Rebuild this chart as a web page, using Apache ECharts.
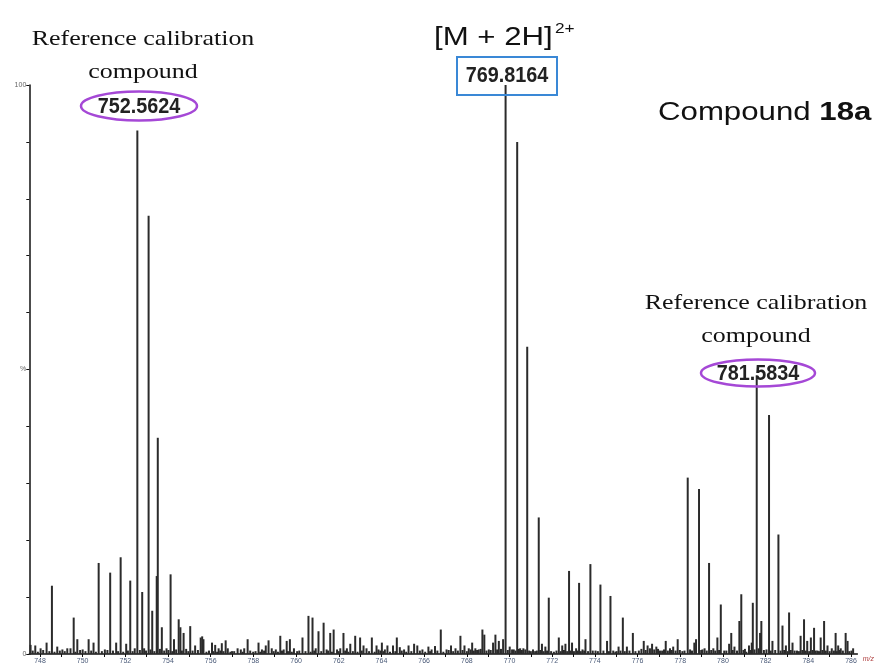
<!DOCTYPE html>
<html>
<head lang="en">
    <meta charset="UTF-8">
    <title>Compound 18a</title>
    <script src="https://cdn.jsdelivr.net/npm/echarts@6.0.0/dist/echarts.min.js"></script>
</head>
<body style="margin:0;background:#fff;">
<div id="container" style="height:666px;width:877px;"></div>
<script>
    // m/z values and relative intensities (%)
    var peakMz = [747.56, 747.78, 748.03, 748.31, 748.56, 748.81, 749.05, 749.28, 749.43, 749.58,
        749.75, 750.0, 750.28, 750.51, 750.75, 751.04, 751.29, 751.57, 751.78, 752.04,
        752.23, 752.44, 752.5624, 752.79, 752.88, 753.09, 753.26, 753.47, 753.52, 753.71,
        753.93, 754.12, 754.28, 754.5, 754.58, 754.73, 755.04, 755.27, 755.53, 755.6,
        755.66, 756.06, 756.21, 756.37, 756.52, 756.7, 756.8, 757.0, 757.26, 757.41,
        757.57, 757.73, 757.99, 758.24, 758.4, 758.58, 758.71, 758.86, 759.05, 759.26,
        759.42, 759.56, 759.71, 759.9, 760.05, 760.3, 760.58, 760.77, 760.92, 761.05,
        761.29, 761.43, 761.6, 761.76, 761.92, 762.07, 762.22, 762.38, 762.54, 762.77,
        763.0, 763.16, 763.3, 763.55, 763.77, 763.86, 764.02, 764.16, 764.28, 764.54,
        764.72, 764.86, 765.06, 765.27, 765.53, 765.68, 765.92, 766.2, 766.35, 766.51,
        766.78, 767.05, 767.26, 767.47, 767.7, 767.89, 768.09, 768.25, 768.4, 768.56,
        768.73, 768.82, 769.03, 769.23, 769.34, 769.5, 769.7, 769.8164, 770.01, 770.12,
        770.36, 770.5, 770.65, 770.83, 771.0, 771.2, 771.37, 771.52, 771.68, 771.84,
        772.08, 772.31, 772.47, 772.62, 772.79, 772.93, 773.12, 773.26, 773.42, 773.56,
        773.79, 774.03, 774.26, 774.57, 774.73, 774.96, 775.11, 775.31, 775.5, 775.78,
        776.06, 776.29, 776.47, 776.68, 776.88, 777.05, 777.32, 777.52, 777.67, 777.88,
        778.1, 778.35, 778.66, 778.74, 778.88, 779.04, 779.14, 779.35, 779.55, 779.74,
        779.9, 780.06, 780.29, 780.39, 780.54, 780.77, 780.86, 781.1, 781.22, 781.35,
        781.4, 781.5834, 781.74, 781.8, 782.16, 782.32, 782.6, 782.79, 782.95, 783.1,
        783.26, 783.47, 783.64, 783.8, 783.95, 784.12, 784.27, 784.43, 784.58, 784.74,
        784.9, 785.1, 785.28, 785.4, 785.52, 785.75, 785.84, 786.1];
    var peakInt = [1.6, 1.5, 1.0, 2.0, 12.0, 1.3, 0.8, 1.0, 1.0, 6.4,
        2.6, 0.8, 2.6, 2.0, 16.0, 0.8, 14.3, 2.0, 17.0, 1.8,
        12.9, 1.0, 92.0, 10.9, 1.0, 77.0, 7.6, 13.7, 38.0, 4.7,
        1.0, 14.0, 2.6, 6.1, 4.7, 3.7, 4.9, 1.5, 2.9, 3.1,
        2.6, 2.0, 1.6, 1.0, 1.9, 2.4, 1.0, 0.5, 1.0, 0.8,
        1.0, 2.6, 0.4, 2.0, 0.8, 1.5, 2.4, 1.0, 0.8, 3.2,
        0.8, 2.3, 2.6, 1.0, 0.5, 2.9, 6.7, 6.4, 1.0, 4.0,
        5.5, 0.8, 3.7, 4.3, 0.8, 1.0, 3.7, 1.0, 1.8, 3.2,
        2.9, 1.5, 1.0, 2.9, 1.5, 0.8, 2.0, 0.8, 1.5, 1.5,
        2.9, 1.2, 0.8, 1.5, 1.8, 1.5, 0.8, 1.3, 0.8, 1.4,
        4.3, 0.8, 1.5, 1.0, 3.2, 1.5, 1.0, 2.0, 1.0, 0.8,
        4.3, 3.4, 0.8, 2.0, 3.4, 2.3, 2.6, 100, 1.3, 0.8,
        90, 1.0, 1.0, 54, 0.5, 0.5, 24, 1.8, 1.3, 9.9,
        0.4, 2.9, 1.5, 1.8, 14.6, 2.0, 1.0, 12.5, 0.8, 2.6,
        15.8, 0.6, 12.2, 2.3, 10.2, 0.4, 1.3, 6.4, 1.3, 3.7,
        0.6, 2.3, 1.5, 1.8, 1.3, 0.6, 2.3, 1.0, 1.3, 2.6,
        0.5, 31, 2.0, 2.6, 29, 0.8, 1.0, 16, 1.0, 2.9,
        8.7, 0.6, 1.8, 3.7, 1.3, 5.8, 10.5, 0.4, 1.5, 2.0,
        9.0, 49, 3.7, 5.8, 42, 2.3, 21, 5.0, 1.5, 7.3,
        2.0, 0.6, 3.2, 6.1, 2.3, 2.9, 4.6, 0.6, 2.9, 5.8,
        1.5, 1.0, 3.7, 1.5, 1.0, 3.7, 2.3, 1.0];

    // baseline noise
    var noiseMz = [747.66, 747.9, 748.15, 748.44, 748.68, 748.93, 749.16, 749.66, 749.88, 750.13,
        750.4, 750.62, 750.9, 751.16, 751.42, 751.66, 751.9, 752.12, 752.34, 752.68,
        752.97, 753.18, 753.36, 753.62, 753.82, 754.02, 754.2, 754.38, 754.65, 754.85,
        754.95, 755.15, 755.4, 755.8, 755.92, 756.12, 756.3, 756.45, 756.6, 756.92,
        757.1, 757.5, 757.85, 758.1, 758.32, 758.5, 758.95, 759.15, 759.34, 759.62,
        759.8, 760.15, 760.44, 760.68, 760.85, 761.18, 761.5, 761.68, 762.0, 762.3,
        762.45, 762.66, 762.88, 763.08, 763.42, 763.68, 763.95, 764.1, 764.4, 764.65,
        764.95, 765.16, 765.4, 765.8, 766.05, 766.28, 766.62, 766.9, 767.15, 767.36,
        767.58, 767.8, 768.0, 768.18, 768.33, 768.48, 768.65, 768.92, 769.12, 769.42,
        769.6, 769.92, 770.2, 770.28, 770.44, 770.58, 770.74, 770.92, 771.1, 771.28,
        771.44, 771.6, 771.76, 771.95, 772.2, 772.4, 772.55, 772.7, 772.86, 773.02,
        773.2, 773.34, 773.5, 773.68, 773.9, 774.14, 774.4, 774.66, 774.86, 775.02,
        775.2, 775.4, 775.62, 775.9, 776.18, 776.38, 776.58, 776.78, 776.96, 777.15,
        777.24, 777.42, 777.6, 777.78, 777.98, 778.2, 778.46, 778.55, 778.98, 779.24,
        779.45, 779.64, 779.82, 780.16, 780.46, 780.66, 780.96, 781.03, 781.3, 781.48,
        781.67, 781.92, 782.04, 782.24, 782.45, 782.7, 782.87, 783.03, 783.18, 783.36,
        783.56, 783.72, 783.88, 784.04, 784.2, 784.35, 784.5, 784.66, 784.82, 785.0,
        785.2, 785.34, 785.46, 785.62, 785.92, 786.02];
    var noiseInt = [0.6, 0.4, 0.7, 0.5, 0.4, 0.6, 0.5, 0.4, 0.7, 0.5,
        0.6, 0.4, 0.5, 0.7, 0.6, 0.5, 0.4, 0.6, 0.5, 0.7,
        0.6, 0.8, 0.5, 0.9, 0.6, 0.7, 0.5, 0.8, 0.6, 0.9,
        0.5, 0.6, 0.7, 0.4, 0.6, 0.5, 0.4, 0.6, 0.5, 0.4,
        0.5, 0.4, 0.6, 0.5, 0.4, 0.6, 0.5, 0.4, 0.6, 0.5,
        0.4, 0.6, 0.5, 0.4, 0.6, 0.5, 0.6, 0.4, 0.5, 0.6,
        0.4, 0.5, 0.4, 0.6, 0.5, 0.4, 0.6, 0.5, 0.4, 0.5,
        0.6, 0.4, 0.5, 0.6, 0.4, 0.5, 0.6, 0.4, 0.7, 0.5,
        0.6, 0.7, 0.5, 0.8, 0.6, 0.7, 0.9, 0.6, 0.7, 0.8,
        0.9, 0.7, 0.8, 0.6, 0.9, 0.7, 0.8, 0.6, 0.8, 0.6,
        0.7, 0.5, 0.6, 0.5, 0.6, 0.5, 0.7, 0.5, 0.6, 0.5,
        0.6, 0.5, 0.6, 0.5, 0.6, 0.5, 0.6, 0.5, 0.6, 0.5,
        0.6, 0.5, 0.6, 0.5, 0.9, 0.7, 1.0, 0.8, 0.9, 0.6,
        0.8, 0.6, 0.7, 0.6, 0.7, 0.6, 0.8, 0.6, 0.7, 0.6,
        0.7, 0.6, 0.7, 0.6, 0.7, 0.6, 0.7, 0.9, 0.7, 0.8,
        1.0, 0.7, 0.8, 0.6, 0.7, 0.6, 0.7, 0.5, 0.7, 0.6,
        0.5, 0.7, 0.6, 0.5, 0.7, 0.6, 0.5, 0.7, 0.6, 0.5,
        0.6, 0.5, 0.7, 0.6, 0.5, 0.6];

    var xMajorTicks = [748, 750, 752, 754, 756, 758, 760, 762, 764, 766, 768, 770, 772, 774, 776, 778, 780, 782, 784, 786];
    var xMinorTicks = [748, 749, 750, 751, 752, 753, 754, 755, 756, 757, 758, 759, 760, 761, 762, 763, 764, 765, 766, 767,
        768, 769, 770, 771, 772, 773, 774, 775, 776, 777, 778, 779, 780, 781, 782, 783, 784, 785, 786];
    var yTicks = [0, 10, 20, 30, 40, 50, 60, 70, 80, 90, 100];
    var yLabels = [0, 50, 100];

    var spectrum = [];
    for (var i = 0; i < noiseMz.length; i++) spectrum.push([noiseMz[i], noiseInt[i]]);
    for (var j = 0; j < peakMz.length; j++) spectrum.push([peakMz[j], peakInt[j]]);

    var dom = document.getElementById("container");
    var myChart = echarts.init(dom);
    var serif = "'Liberation Serif', 'Times New Roman', serif";
    var sans = "'Liberation Sans', Arial, sans-serif";

    var option = {
        animation: false,
        backgroundColor: '#fff',
        grid: {left: 29.3, right: 19.3, top: 85, bottom: 12},
        xAxis: {
            type: 'value',
            min: 747.5,
            max: 786.3,
            name: 'm/z',
            nameLocation: 'end',
            nameGap: 2,
            nameTextStyle: {fontSize: 7, fontStyle: 'italic', color: '#b04040', verticalAlign: 'top', padding: [2, 0, 0, 0]},
            axisLine: {lineStyle: {color: '#111', width: 1.5}},
            axisTick: {customValues: xMinorTicks, length: 3, lineStyle: {color: '#111'}},
            axisLabel: {customValues: xMajorTicks, fontSize: 7, color: '#4a5a78', margin: 4, fontFamily: sans},
            splitLine: {show: false}
        },
        yAxis: {
            type: 'value',
            min: 0,
            max: 100,
            axisLine: {show: true, lineStyle: {color: '#111', width: 1.5}},
            axisTick: {show: true, customValues: yTicks, length: 3, lineStyle: {color: '#111'}},
            axisLabel: {
                customValues: yLabels, fontSize: 7, color: '#666', margin: 3, fontFamily: sans,
                formatter: function (v) { return v === 50 ? '%' : String(v); }
            },
            splitLine: {show: false}
        },
        series: [{
            type: 'bar',
            data: spectrum,
            barWidth: 2,
            itemStyle: {color: '#2b2b2b'},
            silent: true
        }],
        graphic: [
            {type: 'text', x: 143, y: 39, scaleX: 1.18, z: 100,
                style: {text: 'Reference calibration', font: '22px ' + serif, fill: '#111', textAlign: 'center', textVerticalAlign: 'middle'}},
            {type: 'text', x: 143, y: 72, scaleX: 1.18, z: 100,
                style: {text: 'compound', font: '22px ' + serif, fill: '#111', textAlign: 'center', textVerticalAlign: 'middle'}},
            {type: 'ellipse', z: 100, shape: {cx: 139, cy: 106, rx: 58, ry: 14.5},
                style: {fill: 'rgba(255,255,255,0)', stroke: '#a548d6', lineWidth: 2.5}},
            {type: 'text', x: 139, y: 107, scaleX: 0.9, z: 101,
                style: {text: '752.5624', font: 'bold 22px ' + sans, fill: '#222', textAlign: 'center', textVerticalAlign: 'middle'}},

            {type: 'text', x: 434, y: 38, scaleX: 1.2, z: 100,
                style: {text: '[M + 2H]', font: '26px ' + sans, fill: '#111', textAlign: 'left', textVerticalAlign: 'middle'}},
            {type: 'text', x: 555, y: 29, scaleX: 1.15, z: 100,
                style: {text: '2+', font: '15px ' + sans, fill: '#111', textAlign: 'left', textVerticalAlign: 'middle'}},
            {type: 'rect', z: 100, shape: {x: 457, y: 57, width: 100, height: 38},
                style: {fill: 'rgba(255,255,255,0)', stroke: '#3a88d6', lineWidth: 2}},
            {type: 'text', x: 507, y: 76, scaleX: 0.9, z: 101,
                style: {text: '769.8164', font: 'bold 22px ' + sans, fill: '#222', textAlign: 'center', textVerticalAlign: 'middle'}},

            {type: 'text', x: 658, y: 113, scaleX: 1.2, z: 100,
                style: {
                    text: 'Compound {b|18a}', font: '26px ' + sans, fill: '#111', textAlign: 'left', textVerticalAlign: 'middle',
                    rich: {b: {font: 'bold 26px ' + sans, fill: '#111'}}
                }},

            {type: 'text', x: 756, y: 303, scaleX: 1.18, z: 100,
                style: {text: 'Reference calibration', font: '22px ' + serif, fill: '#111', textAlign: 'center', textVerticalAlign: 'middle'}},
            {type: 'text', x: 756, y: 336, scaleX: 1.18, z: 100,
                style: {text: 'compound', font: '22px ' + serif, fill: '#111', textAlign: 'center', textVerticalAlign: 'middle'}},
            {type: 'ellipse', z: 100, shape: {cx: 758, cy: 373, rx: 57, ry: 13.5},
                style: {fill: 'rgba(255,255,255,0)', stroke: '#a548d6', lineWidth: 2.5}},
            {type: 'text', x: 758, y: 374, scaleX: 0.9, z: 101,
                style: {text: '781.5834', font: 'bold 22px ' + sans, fill: '#222', textAlign: 'center', textVerticalAlign: 'middle'}}
        ]
    };
    myChart.setOption(option);
</script>
</body>
</html>
